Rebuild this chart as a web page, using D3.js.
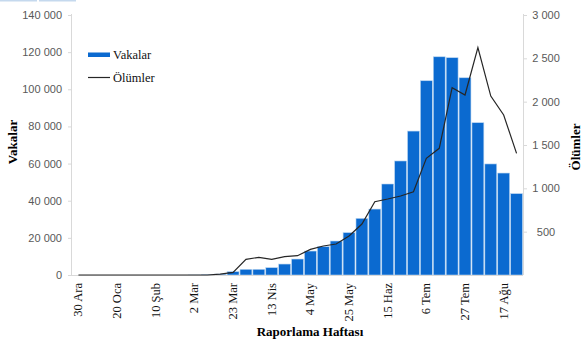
<!DOCTYPE html>
<html><head><meta charset="utf-8">
<script src="https://cdn.jsdelivr.net/npm/d3@7"></script>
<style>
html,body{margin:0;padding:0;background:#fff;}
svg{display:block;}
</style></head>
<body>
<svg id="c" width="588" height="340"></svg>
<script>
const weeks = ["30 Ara","6 Oca","13 Oca","20 Oca","27 Oca","3 Şub","10 Şub","17 Şub","24 Şub","2 Mar","9 Mar","16 Mar","23 Mar","30 Mar","6 Nis","13 Nis","20 Nis","27 Nis","4 May","11 May","18 May","25 May","1 Haz","8 Haz","15 Haz","22 Haz","29 Haz","6 Tem","13 Tem","20 Tem","27 Tem","3 Ağu","10 Ağu","17 Ağu","24 Ağu"];
const shownWeeks = ["30 Ara","20 Oca","10 Şub","2 Mar","23 Mar","13 Nis","4 May","25 May","15 Haz","6 Tem","27 Tem","17 Ağu"];
const cases = [0,0,0,0,0,0,0,0,0,10,150,500,1800,3070,3070,3950,5900,8600,12900,15250,18300,22800,30500,35500,49000,61400,77500,104600,117500,117000,106200,82000,59800,54900,43800];
const deaths = [0,0,0,0,0,0,0,0,0,0,0,10,30,181,204,181,211,223,296,335,358,450,588,846,877,912,961,1346,1462,2161,2077,2623,2065,1846,1404];
const leftTicks = [0,20000,40000,60000,80000,100000,120000,140000];
const rightTicks = [500,1000,1500,2000,2500,3000];

const svg = d3.select("#c");
// top-left decorative strips
svg.append("rect").attr("x",0).attr("y",0).attr("width",37).attr("height",1.5).attr("fill","#c5d9ee");
svg.append("rect").attr("x",39).attr("y",0).attr("width",37).attr("height",1.5).attr("fill","#c5d9ee");

const x0 = 72, x1 = 523, yB = 275, yT = 15;
const x = d3.scaleBand().domain(weeks).range([x0, x1]).paddingInner(0).paddingOuter(0);
const yL = d3.scaleLinear().domain([0,140000]).range([yB, yT]);
const yR = d3.scaleLinear().domain([0,3000]).range([yB, yT]);
const fmt = v => d3.format(",")(v).replace(/,/g, " ");

// left axis
const gL = svg.append("g").attr("transform",`translate(${x0},0)`)
  .call(d3.axisLeft(yL).tickValues(leftTicks).tickSize(4).tickPadding(6).tickFormat(fmt));
gL.select(".domain").attr("stroke","#d9d9d9").attr("d",`M-0.5,${yB}V${yT-1}`);
gL.selectAll(".tick line").attr("stroke","#d9d9d9");
gL.selectAll("text").attr("fill","#595959").style("font-family","'Liberation Sans',Arial,sans-serif").style("font-size","11px");

// right axis
const gR = svg.append("g").attr("transform",`translate(${x1},0)`)
  .call(d3.axisRight(yR).tickValues(rightTicks).tickSize(4).tickPadding(6).tickFormat(fmt));
gR.select(".domain").attr("stroke","#d9d9d9").attr("d",`M0.5,${yB}V${yT-1}`);
gR.selectAll(".tick line").attr("stroke","#d9d9d9");
gR.selectAll("text").attr("fill","#595959").attr("text-anchor","middle").attr("x",23)
  .style("font-family","'Liberation Sans',Arial,sans-serif").style("font-size","11px");

// bars
svg.append("g").selectAll("rect").data(cases).join("rect")
  .attr("x",(d,i)=>x(weeks[i])+0.5)
  .attr("width",x.bandwidth()-1)
  .attr("y",d=>yL(d))
  .attr("height",d=>yB-yL(d))
  .attr("fill","#0b6ad0")
  .attr("stroke","#b9d5f0").attr("stroke-width",0.6);

// bottom axis line
svg.append("line").attr("x1",x0).attr("x2",x1).attr("y1",yB+0.5).attr("y2",yB+0.5).attr("stroke","#d9d9d9");

// deaths line
const line = d3.line().x((d,i)=>x(weeks[i])+x.bandwidth()/2).y(d=>yR(d));
svg.append("path").datum(deaths).attr("d",line).attr("fill","none").attr("stroke","#262626").attr("stroke-width",1.2);

// x labels
const gX = svg.append("g").attr("transform",`translate(0,${yB})`)
  .call(d3.axisBottom(x).tickValues(shownWeeks).tickSize(0).tickPadding(0));
gX.select(".domain").remove();
gX.selectAll("text")
  .attr("transform","rotate(-90)").attr("x",-8).attr("y",4).attr("dy","0")
  .attr("text-anchor","end").attr("fill","#111")
  .style("font-family","'Liberation Serif','Times New Roman',serif").style("font-size","12.5px");

// axis titles
const serif = "'Liberation Serif','Times New Roman',serif";
svg.append("text").attr("transform","translate(17,142) rotate(-90)").attr("text-anchor","middle")
  .style("font-family",serif).style("font-weight","bold").style("font-size","13px").text("Vakalar");
svg.append("text").attr("transform","translate(580,147) rotate(-90)").attr("text-anchor","middle")
  .style("font-family",serif).style("font-weight","bold").style("font-size","13px").text("Ölümler");
svg.append("text").attr("x",310).attr("y",336).attr("text-anchor","middle")
  .style("font-family",serif).style("font-weight","bold").style("font-size","13px").text("Raporlama Haftası");

// legend
svg.append("rect").attr("x",88).attr("y",52.5).attr("width",22).attr("height",4.5).attr("fill","#0b6ad0");
svg.append("text").attr("x",113).attr("y",59).style("font-family",serif).style("font-size","12.5px").attr("fill","#111").text("Vakalar");
svg.append("line").attr("x1",88).attr("x2",110).attr("y1",77.5).attr("y2",77.5).attr("stroke","#262626").attr("stroke-width",1.2);
svg.append("text").attr("x",113).attr("y",81.5).style("font-family",serif).style("font-size","12.5px").attr("fill","#111").text("Ölümler");
</script>
</body></html>
